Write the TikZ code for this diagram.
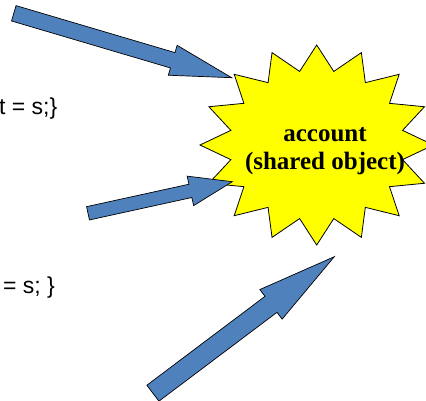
\documentclass[tikz,border=0pt]{standalone}
\usepackage{fontspec}
\setmainfont{Liberation Serif}
\newfontfamily\codefont{Liberation Sans}
\usetikzlibrary{calc}

\definecolor{arrowblue}{HTML}{4F81BD}
\definecolor{burst}{HTML}{FFFF00}

% fat block arrow: tail, tip, shaft half-width, head half-width, head length
\newcommand\fatarrow[5]{%
  \coordinate (fa-b) at ($(#2)!#5!(#1)$);
  \draw[blockarrow]
    ($(#1)!#3!90:(#2)$) -- ($(fa-b)!#3!90:(#2)$) -- ($(fa-b)!#4!90:(#2)$)
    -- (#2)
    -- ($(fa-b)!#4!-90:(#2)$) -- ($(fa-b)!#3!-90:(#2)$) -- ($(#1)!#3!-90:(#2)$)
    -- cycle;
}

\tikzset{
  blockarrow/.style={fill=arrowblue, draw=black, line width=0.7pt, line join=miter},
  burststyle/.style={fill=burst, draw=black, line width=0.8pt, line join=miter},
  codetext/.style={font=\codefont\fontsize{23}{27}\selectfont, inner sep=0pt, anchor=east},
  labeltext/.style={font=\bfseries\fontsize{25}{28}\selectfont, align=center, inner sep=0pt}
}

\begin{document}
\begin{tikzpicture}[x=1pt, y=-1pt]
  \useasboundingbox (0,0) rectangle (426,400);
  \clip (0,0) rectangle (426,400);

  % code fragments on the left
  \node[codetext] (code1) at (57.5,109) {t = s;\}};
  \node[codetext] (code2) at (55,288) {= s; \}};

  % sixteen-point burst around the shared object
  \coordinate (centre) at (316.7,145);
  \draw[burststyle] (316.7,45)
    \foreach \i in {1,...,31} {
      -- ({316.7+116.7*(0.875+0.125*cos(180*\i))*sin(11.25*\i)},
          {145-100*(0.875+0.125*cos(180*\i))*cos(11.25*\i)})
    } -- cycle;
  \node[labeltext] (acct) at (325,151) {account\\(shared object)};

  % three threads pointing at the object
  \coordinate (a1tail) at (13.8,13.3);
  \coordinate (a1tip) at (231.7,77.7);
  \fatarrow{a1tail}{a1tip}{8pt}{15.6pt}{61.5pt}

  \coordinate (a2tail) at (88,213.3);
  \coordinate (a2tip) at (232.3,181.7);
  \fatarrow{a2tail}{a2tip}{6.8pt}{15.1pt}{42.9pt}

  \coordinate (a3tail) at (152.9,393.2);
  \coordinate (a3tip) at (334.3,256.7);
  \fatarrow{a3tail}{a3tip}{10pt}{18.5pt}{79.2pt}
\end{tikzpicture}
\end{document}
